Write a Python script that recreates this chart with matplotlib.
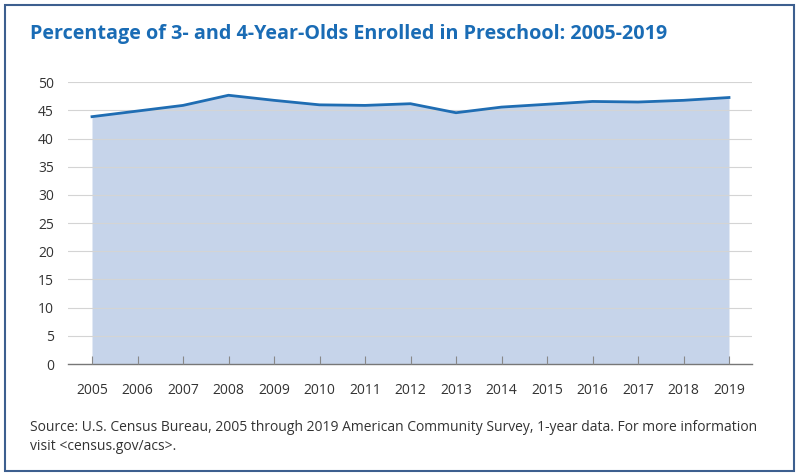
import matplotlib.pyplot as plt
from matplotlib.patches import Rectangle

years = [2005, 2006, 2007, 2008, 2009, 2010, 2011, 2012,
         2013, 2014, 2015, 2016, 2017, 2018, 2019]
pct = [43.9, 44.9, 45.9, 47.7, 46.8, 46.0, 45.9, 46.2,
       44.6, 45.6, 46.1, 46.6, 46.5, 46.8, 47.3]
yticks = [0, 5, 10, 15, 20, 25, 30, 35, 40, 45, 50]

title = 'Percentage of 3- and 4-Year-Olds Enrolled in Preschool: 2005-2019'
source = ('Source: U.S. Census Bureau, 2005 through 2019 American Community Survey, 1-year data. '
          'For more information\nvisit <census.gov/acs>.')

W, H = 800, 473
fig = plt.figure(figsize=(W / 100, H / 100), dpi=100)
fig.patch.set_facecolor('white')

# outer frame
fig.patches.append(Rectangle((5 / W, 1 - 471 / H), 789 / W, 466 / H,
                             transform=fig.transFigure, fill=False,
                             edgecolor='#3d5f8f', linewidth=1.5))

fig.text(30 / W, 1 - 34 / H, title, fontsize=14.2, fontweight='bold',
         color='#1a6cb5', family='Open Sans', va='center', ha='left')

# axis: x from 68 to 752 px, y 0 at 364 px, 50 at 82.3 px
x0 = 2005 - (92 - 68) / 45.5
x1 = 2019 + (752 - 729) / 45.5
ax = fig.add_axes([68 / W, 1 - 364 / H, (752 - 68) / W, (364 - 82.3) / H])
ax.set_xlim(x0, x1)
ax.set_ylim(0, 50)

ax.fill_between(years, pct, 0, color='#c6d4ea', zorder=1, linewidth=0)
ax.plot(years, pct, color='#1f6db3', linewidth=2, zorder=3)

ax.set_yticks(yticks)
ax.yaxis.grid(True, color='#d4d4d4', linewidth=0.8, zorder=2)
ax.set_axisbelow(False)
ax.set_xticks(years)
ax.set_xticklabels([str(y) for y in years])

for s in ['top', 'right', 'left']:
    ax.spines[s].set_visible(False)
ax.spines['bottom'].set_color('#777777')
ax.spines['bottom'].set_linewidth(1)
ax.tick_params(axis='y', length=0, pad=10, labelsize=10, labelcolor='#333333')
ax.tick_params(axis='x', length=6, direction='in', color='#888888',
               pad=14, labelsize=10, labelcolor='#333333')
for lab in ax.get_xticklabels() + ax.get_yticklabels():
    lab.set_family('Open Sans')
ax.set_facecolor('none')

fig.text(30 / W, 1 - 437 / H, source, fontsize=10.0, color='#333333',
         family='Open Sans', va='center', ha='left', linespacing=1.35)

fig.savefig('out.png', dpi=100, facecolor='white')
